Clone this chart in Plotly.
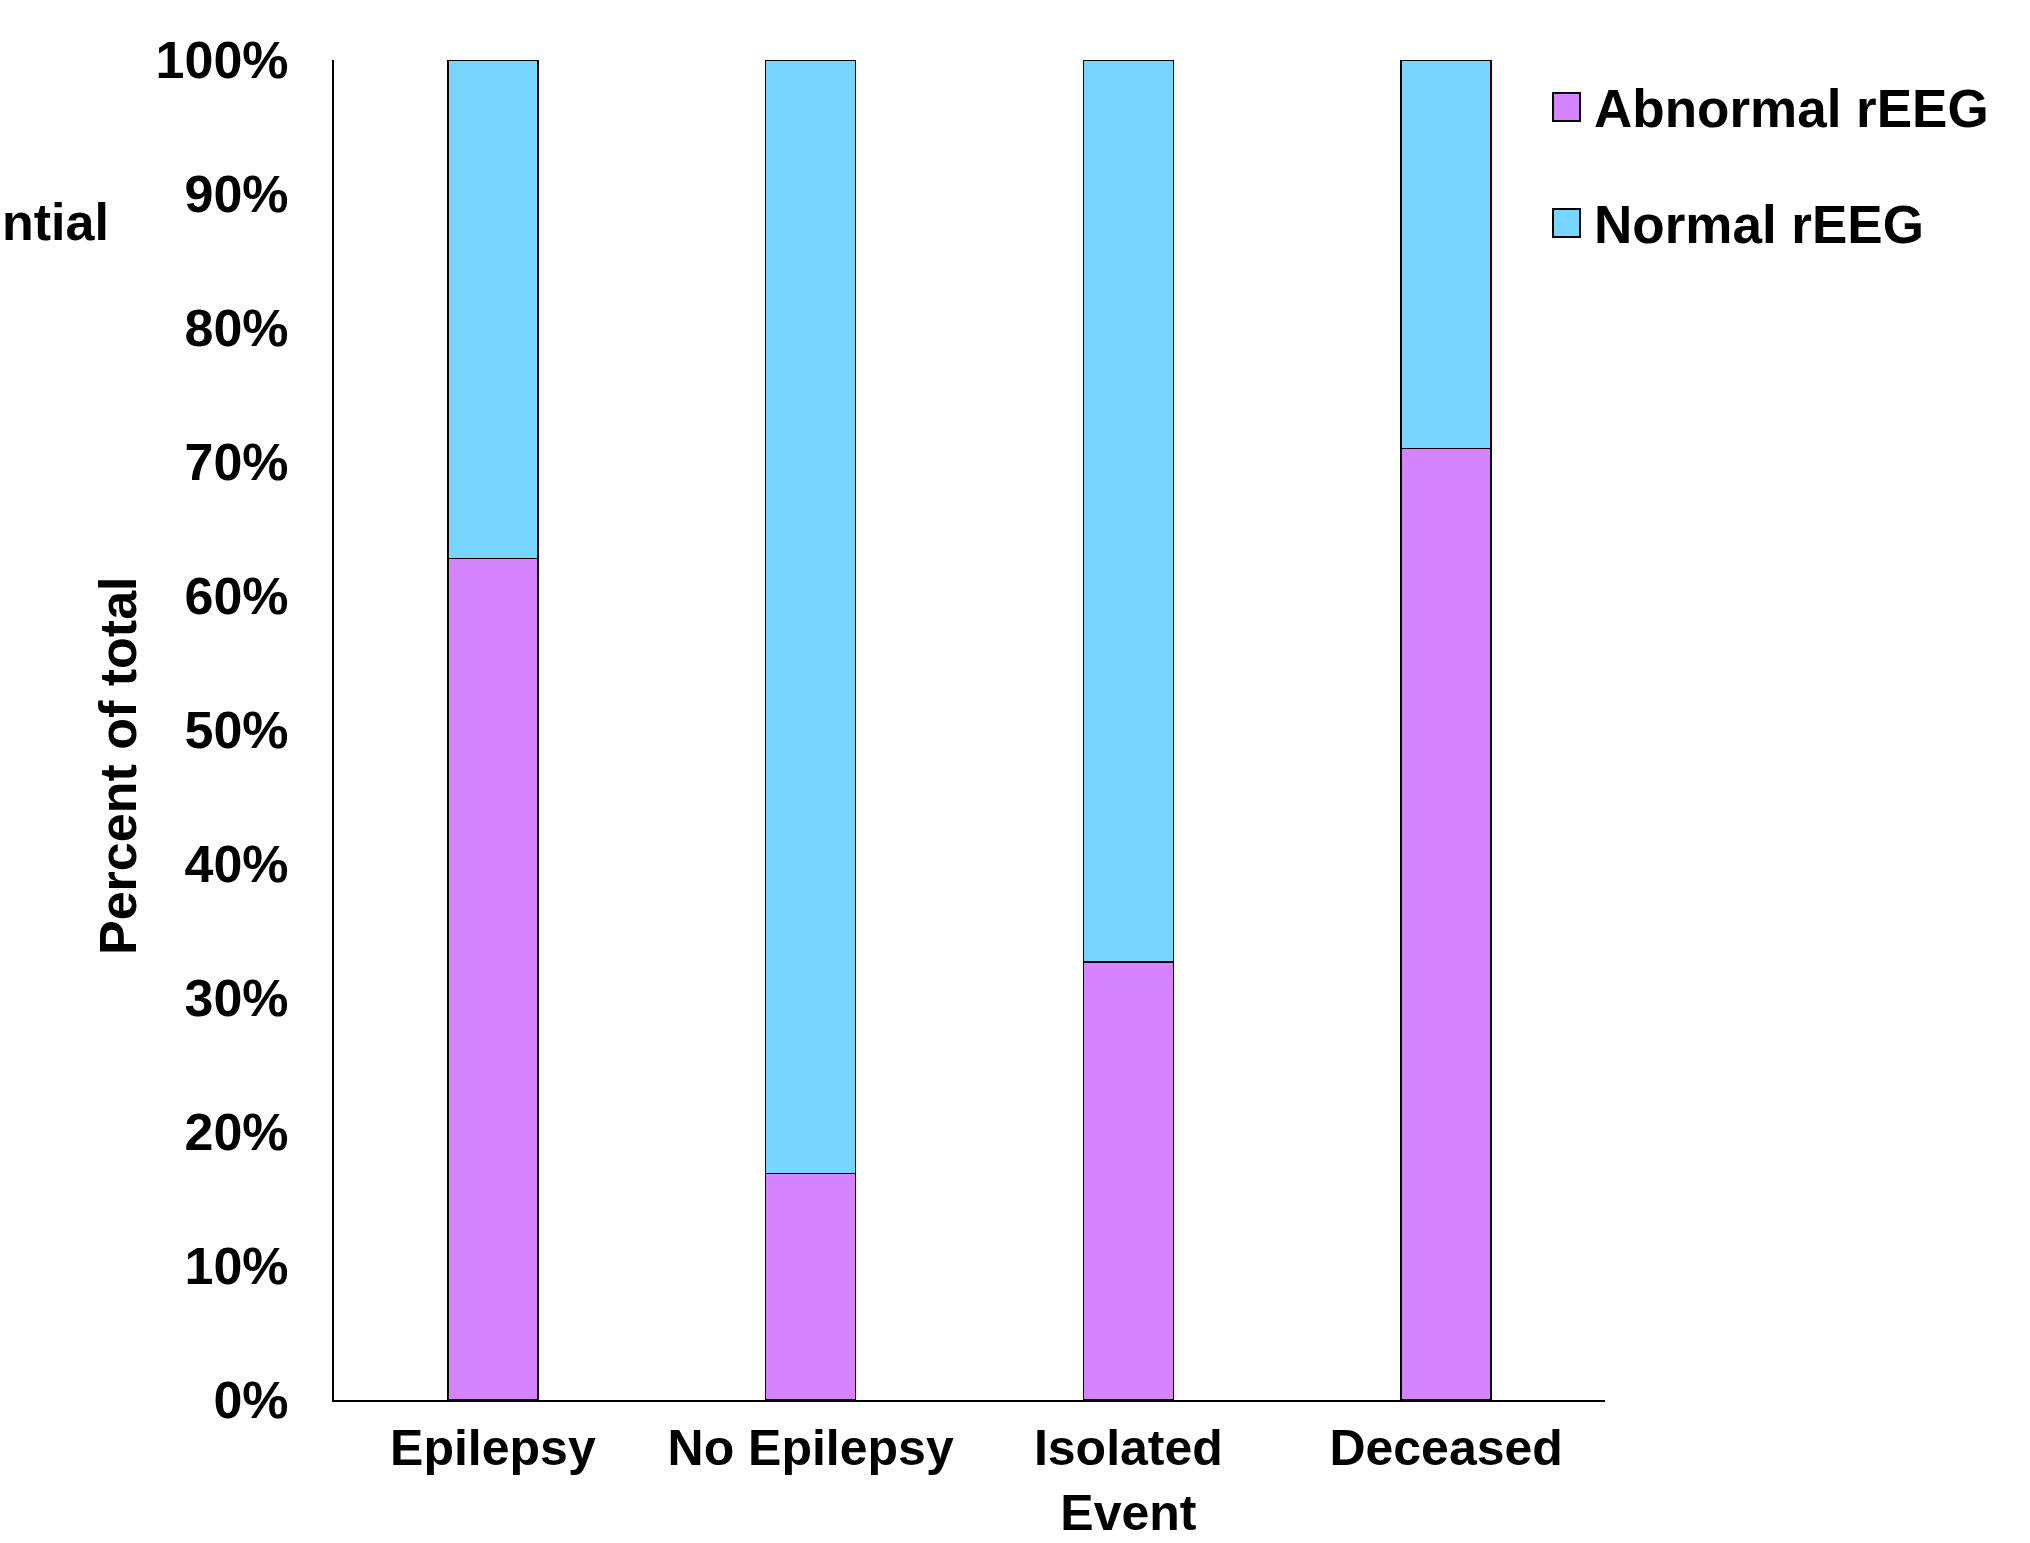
import plotly.graph_objects as go

# ---- data -------------------------------------------------------------
categories = ["Epilepsy", "No Epilepsy", "Isolated<br>Event", "Deceased"]
abnormal_pct = [62.8, 16.9, 32.7, 71.0]
normal_pct = [37.2, 83.1, 67.3, 29.0]
series_names = ["Abnormal rEEG", "Normal rEEG"]
series_colors = ["#D683FF", "#77D5FF"]
y_tick_vals = [0, 10, 20, 30, 40, 50, 60, 70, 80, 90, 100]
y_tick_text = ["0%", "10%", "20%", "30%", "40%", "50%", "60%", "70%", "80%", "90%", "100%"]

# ---- page geometry (pixels) -------------------------------------------
W, H = 2030, 1543
L, R, T, B = 334, 425, 60, 143
PW, PH = W - L - R, H - T - B


def px(x):
    """Horizontal pixel -> paper coordinate."""
    return (x - L) / PW


def py(y):
    """Vertical pixel (from top) -> paper coordinate."""
    return 1 - (y - T) / PH


FONT = "Liberation Sans, Arial, sans-serif"

fig = go.Figure()
for name, color, vals in zip(series_names, series_colors, [abnormal_pct, normal_pct]):
    fig.add_trace(go.Bar(
        x=categories, y=vals, name=name,
        marker=dict(color=color, line=dict(color="black", width=1.5)),
        showlegend=False,
    ))

fig.update_layout(
    width=W, height=H,
    margin=dict(l=L, r=R, t=T, b=B, pad=0, autoexpand=False),
    paper_bgcolor="white", plot_bgcolor="white",
    barmode="stack", bargap=0.717,
    font=dict(family=FONT, size=52, color="black", weight="bold"),
)

fig.update_xaxes(
    automargin=False,
    showline=True, linecolor="black", linewidth=2,
    showgrid=False, ticks="", ticklabelstandoff=3,
    tickfont=dict(family=FONT, size=50, color="black", weight="bold"),
)
fig.update_yaxes(
    automargin=False,
    range=[0, 100], tickvals=y_tick_vals, ticktext=y_tick_text,
    showline=True, linecolor="black", linewidth=2,
    showgrid=False, zeroline=False, ticks="", ticklabelstandoff=33,
    tickfont=dict(family=FONT, size=52, color="black", weight="bold"),
)

annotations = [
    dict(text="Percent of total", textangle=-90, x=px(118), y=py(766),
         xref="paper", yref="paper", showarrow=False,
         xanchor="center", yanchor="middle",
         font=dict(family=FONT, size=52, color="black", weight="bold")),
    dict(text="ntial", x=px(0), y=py(222), xref="paper", yref="paper",
         showarrow=False, xanchor="left", yanchor="middle",
         font=dict(family=FONT, size=52, color="black", weight="bold")),
]

# legend: swatch + label per series
shapes = []
legend_rows = [107, 223]
for name, color, yc in zip(series_names, series_colors, legend_rows):
    shapes.append(dict(
        type="rect", xref="paper", yref="paper",
        x0=px(1553), x1=px(1580), y0=py(yc + 14), y1=py(yc - 14),
        fillcolor=color, line=dict(color="black", width=2),
    ))
    annotations.append(dict(
        text=name, x=px(1592), y=py(yc + 2), xref="paper", yref="paper",
        showarrow=False, xanchor="left", yanchor="middle",
        font=dict(family=FONT, size=53, color="black", weight="bold"),
    ))

fig.update_layout(annotations=annotations, shapes=shapes)

fig.write_html("out.html")
